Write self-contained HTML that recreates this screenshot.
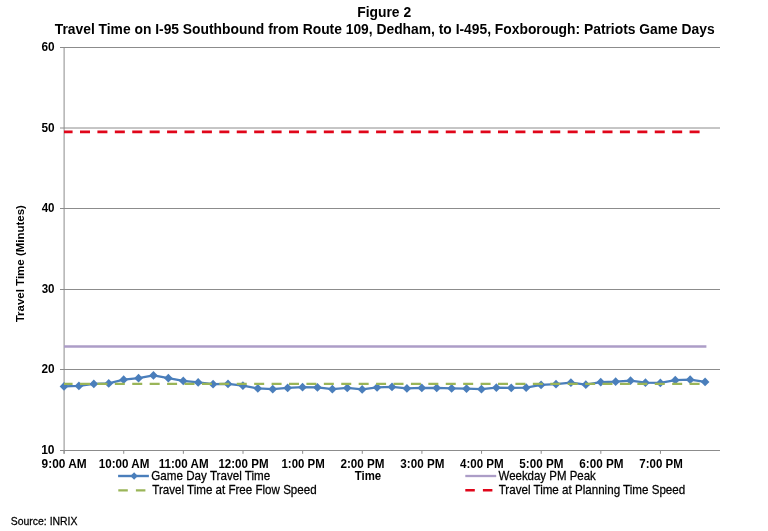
<!DOCTYPE html>
<html><head><meta charset="utf-8"><title>Figure 2</title>
<style>
html,body{margin:0;padding:0;background:#fff;}
body{width:768px;height:531px;overflow:hidden;font-family:"Liberation Sans",sans-serif;}
svg{display:block}
text{font-family:"Liberation Sans",sans-serif;fill:#000}
</style></head><body>
<svg width="768" height="531" viewBox="0 0 768 531">
<rect width="768" height="531" fill="#fff"/>
<text transform="translate(357.20,17.00) scale(0.9981,1)" font-size="13.9" font-weight="bold">Figure 2</text>
<text transform="translate(54.75,33.60) scale(0.9959,1)" font-size="13.9" font-weight="bold">Travel Time on I-95 Southbound from Route 109, Dedham, to I-495, Foxborough: Patriots Game Days</text>

<g stroke="#8c8c8c" stroke-width="1" fill="none"><line x1="60" y1="47.5" x2="720" y2="47.5"/><line x1="60" y1="128.0" x2="720" y2="128.0"/><line x1="60" y1="208.5" x2="720" y2="208.5"/><line x1="60" y1="289.5" x2="720" y2="289.5"/><line x1="60" y1="369.5" x2="720" y2="369.5"/><line x1="60" y1="450.5" x2="720" y2="450.5"/>
<line x1="64.1" y1="47" x2="64.1" y2="453.8"/>
<line x1="64.10" y1="450.5" x2="64.10" y2="453.8"/><line x1="123.74" y1="450.5" x2="123.74" y2="453.8"/><line x1="183.37" y1="450.5" x2="183.37" y2="453.8"/><line x1="243.01" y1="450.5" x2="243.01" y2="453.8"/><line x1="302.65" y1="450.5" x2="302.65" y2="453.8"/><line x1="362.28" y1="450.5" x2="362.28" y2="453.8"/><line x1="421.92" y1="450.5" x2="421.92" y2="453.8"/><line x1="481.55" y1="450.5" x2="481.55" y2="453.8"/><line x1="541.19" y1="450.5" x2="541.19" y2="453.8"/><line x1="600.83" y1="450.5" x2="600.83" y2="453.8"/><line x1="660.46" y1="450.5" x2="660.46" y2="453.8"/>
</g>
<text transform="translate(41.42,51.00) scale(0.9608,1)" font-size="12.3" font-weight="bold">60</text>
<text transform="translate(41.42,131.50) scale(0.9608,1)" font-size="12.3" font-weight="bold">50</text>
<text transform="translate(41.66,212.00) scale(0.9423,1)" font-size="12.3" font-weight="bold">40</text>
<text transform="translate(41.66,293.00) scale(0.9423,1)" font-size="12.3" font-weight="bold">30</text>
<text transform="translate(41.42,373.00) scale(0.9608,1)" font-size="12.3" font-weight="bold">20</text>
<text transform="translate(41.16,454.00) scale(0.9800,1)" font-size="12.3" font-weight="bold">10</text>
<text transform="translate(41.62,467.50) scale(0.9657,1)" font-size="12.3" font-weight="bold">9:00 AM</text>
<text transform="translate(98.69,467.50) scale(0.9462,1)" font-size="12.3" font-weight="bold">10:00 AM</text>
<text transform="translate(158.69,467.50) scale(0.9444,1)" font-size="12.3" font-weight="bold">11:00 AM</text>
<text transform="translate(218.39,467.50) scale(0.9411,1)" font-size="12.3" font-weight="bold">12:00 PM</text>
<text transform="translate(281.50,467.50) scale(0.9311,1)" font-size="12.3" font-weight="bold">1:00 PM</text>
<text transform="translate(340.42,467.50) scale(0.9503,1)" font-size="12.3" font-weight="bold">2:00 PM</text>
<text transform="translate(400.36,467.50) scale(0.9484,1)" font-size="12.3" font-weight="bold">3:00 PM</text>
<text transform="translate(459.96,467.50) scale(0.9429,1)" font-size="12.3" font-weight="bold">4:00 PM</text>
<text transform="translate(519.32,467.50) scale(0.9503,1)" font-size="12.3" font-weight="bold">5:00 PM</text>
<text transform="translate(579.22,467.50) scale(0.9525,1)" font-size="12.3" font-weight="bold">6:00 PM</text>
<text transform="translate(639.33,467.50) scale(0.9370,1)" font-size="12.3" font-weight="bold">7:00 PM</text>

<text transform="translate(354.77,479.70) scale(0.9297,1)" font-size="12.3" font-weight="bold">Time</text>

<text transform="translate(24.30,322.26) rotate(-90) scale(1.0448,1)" font-size="11" font-weight="bold">Travel Time (Minutes)</text>

<line x1="64" y1="346.55" x2="706.4" y2="346.55" stroke="#ac9dc7" stroke-width="2.4"/>
<line x1="64" y1="131.85" x2="702" y2="131.85" stroke="#e0061a" stroke-width="2.6" stroke-dasharray="10 7.417" stroke-dashoffset="1.42"/>
<polyline points="64.00,386.45 78.91,385.95 93.82,383.95 108.73,383.45 123.64,379.70 138.55,378.20 153.45,375.45 168.36,378.20 183.27,380.95 198.18,382.45 213.09,384.20 228.00,383.95 242.91,385.70 257.82,388.45 272.73,389.20 287.64,387.95 302.55,387.20 317.45,387.45 332.36,389.20 347.27,387.95 362.18,389.45 377.09,387.45 392.00,386.95 406.91,388.45 421.82,387.95 436.73,387.95 451.64,388.45 466.55,388.70 481.45,389.20 496.36,387.70 511.27,387.95 526.18,387.70 541.09,384.95 556.00,384.20 570.91,382.70 585.82,384.70 600.73,382.20 615.64,381.70 630.55,380.70 645.45,382.70 660.36,382.95 675.27,380.20 690.18,379.70 705.09,381.95" fill="none" stroke="#4a7ebb" stroke-width="2.35" stroke-linejoin="round"/>
<g fill="#4a7ebb"><path d="M64.00 382.10L68.35 386.45L64.00 390.80L59.65 386.45Z"/><path d="M78.91 381.60L83.26 385.95L78.91 390.30L74.56 385.95Z"/><path d="M93.82 379.60L98.17 383.95L93.82 388.30L89.47 383.95Z"/><path d="M108.73 379.10L113.08 383.45L108.73 387.80L104.38 383.45Z"/><path d="M123.64 375.35L127.99 379.70L123.64 384.05L119.29 379.70Z"/><path d="M138.55 373.85L142.90 378.20L138.55 382.55L134.20 378.20Z"/><path d="M153.45 371.10L157.80 375.45L153.45 379.80L149.10 375.45Z"/><path d="M168.36 373.85L172.71 378.20L168.36 382.55L164.01 378.20Z"/><path d="M183.27 376.60L187.62 380.95L183.27 385.30L178.92 380.95Z"/><path d="M198.18 378.10L202.53 382.45L198.18 386.80L193.83 382.45Z"/><path d="M213.09 379.85L217.44 384.20L213.09 388.55L208.74 384.20Z"/><path d="M228.00 379.60L232.35 383.95L228.00 388.30L223.65 383.95Z"/><path d="M242.91 381.35L247.26 385.70L242.91 390.05L238.56 385.70Z"/><path d="M257.82 384.10L262.17 388.45L257.82 392.80L253.47 388.45Z"/><path d="M272.73 384.85L277.08 389.20L272.73 393.55L268.38 389.20Z"/><path d="M287.64 383.60L291.99 387.95L287.64 392.30L283.29 387.95Z"/><path d="M302.55 382.85L306.90 387.20L302.55 391.55L298.20 387.20Z"/><path d="M317.45 383.10L321.80 387.45L317.45 391.80L313.10 387.45Z"/><path d="M332.36 384.85L336.71 389.20L332.36 393.55L328.01 389.20Z"/><path d="M347.27 383.60L351.62 387.95L347.27 392.30L342.92 387.95Z"/><path d="M362.18 385.10L366.53 389.45L362.18 393.80L357.83 389.45Z"/><path d="M377.09 383.10L381.44 387.45L377.09 391.80L372.74 387.45Z"/><path d="M392.00 382.60L396.35 386.95L392.00 391.30L387.65 386.95Z"/><path d="M406.91 384.10L411.26 388.45L406.91 392.80L402.56 388.45Z"/><path d="M421.82 383.60L426.17 387.95L421.82 392.30L417.47 387.95Z"/><path d="M436.73 383.60L441.08 387.95L436.73 392.30L432.38 387.95Z"/><path d="M451.64 384.10L455.99 388.45L451.64 392.80L447.29 388.45Z"/><path d="M466.55 384.35L470.90 388.70L466.55 393.05L462.20 388.70Z"/><path d="M481.45 384.85L485.80 389.20L481.45 393.55L477.10 389.20Z"/><path d="M496.36 383.35L500.71 387.70L496.36 392.05L492.01 387.70Z"/><path d="M511.27 383.60L515.62 387.95L511.27 392.30L506.92 387.95Z"/><path d="M526.18 383.35L530.53 387.70L526.18 392.05L521.83 387.70Z"/><path d="M541.09 380.60L545.44 384.95L541.09 389.30L536.74 384.95Z"/><path d="M556.00 379.85L560.35 384.20L556.00 388.55L551.65 384.20Z"/><path d="M570.91 378.35L575.26 382.70L570.91 387.05L566.56 382.70Z"/><path d="M585.82 380.35L590.17 384.70L585.82 389.05L581.47 384.70Z"/><path d="M600.73 377.85L605.08 382.20L600.73 386.55L596.38 382.20Z"/><path d="M615.64 377.35L619.99 381.70L615.64 386.05L611.29 381.70Z"/><path d="M630.55 376.35L634.90 380.70L630.55 385.05L626.20 380.70Z"/><path d="M645.45 378.35L649.80 382.70L645.45 387.05L641.10 382.70Z"/><path d="M660.36 378.60L664.71 382.95L660.36 387.30L656.01 382.95Z"/><path d="M675.27 375.85L679.62 380.20L675.27 384.55L670.92 380.20Z"/><path d="M690.18 375.35L694.53 379.70L690.18 384.05L685.83 379.70Z"/><path d="M705.09 377.60L709.44 381.95L705.09 386.30L700.74 381.95Z"/></g>
<line x1="64" y1="383.9" x2="702" y2="383.9" stroke="#9ab558" stroke-width="2.4" stroke-dasharray="10 7.417" stroke-dashoffset="1.42"/>
<line x1="118.1" y1="476.0" x2="148.9" y2="476.0" stroke="#4a7ebb" stroke-width="2.4"/>
<path d="M134.1 472.3L137.8 476.0L134.1 479.7L130.4 476.0Z" fill="#4a7ebb"/>
<line x1="118.3" y1="490.35" x2="149" y2="490.35" stroke="#9ab558" stroke-width="2.4" stroke-dasharray="9.5 8.1"/>
<line x1="465.3" y1="476.0" x2="496.2" y2="476.0" stroke="#ac9dc7" stroke-width="2.3"/>
<line x1="465.3" y1="490.3" x2="496" y2="490.3" stroke="#e0061a" stroke-width="2.6" stroke-dasharray="9.5 8.1"/>
<text transform="translate(151.30,480.00) scale(0.9312,1)" font-size="12.5" stroke="#000" stroke-width="0.25">Game Day Travel Time</text>
<text transform="translate(152.27,494.30) scale(0.9271,1)" font-size="12.5" stroke="#000" stroke-width="0.25">Travel Time at Free Flow Speed</text>
<text transform="translate(498.52,480.00) scale(0.9177,1)" font-size="12.5" stroke="#000" stroke-width="0.25">Weekday PM Peak</text>
<text transform="translate(498.67,494.30) scale(0.9295,1)" font-size="12.5" stroke="#000" stroke-width="0.25">Travel Time at Planning Time Speed</text>

<text transform="translate(10.77,524.70) scale(0.9678,1)" font-size="10.8" stroke="#000" stroke-width="0.25">Source: INRIX</text>

</svg>
</body></html>
